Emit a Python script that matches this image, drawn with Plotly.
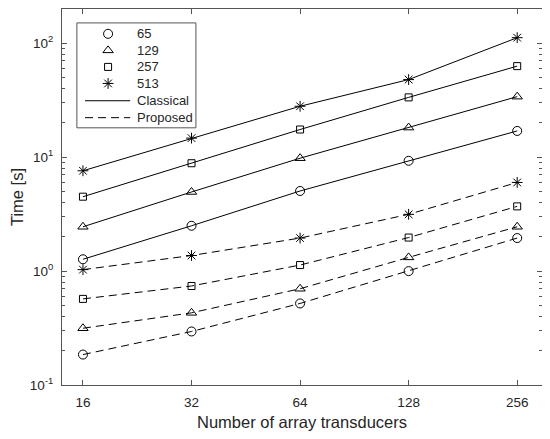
import plotly.graph_objects as go

# number of array transducers
n_trans = [16, 32, 64, 128, 256]

# element counts (legend labels)
sizes = ["65", "129", "257", "513"]

# Classical times [s]
classical = {
    "65": [1.27, 2.5, 5.05, 9.3, 17.0],
    "129": [2.45, 4.95, 9.8, 18.2, 34.0],
    "257": [4.5, 8.85, 17.5, 33.5, 63.0],
    "513": [7.6, 14.7, 28.0, 48.0, 112.0],
}
# Proposed times [s]
proposed = {
    "65": [0.185, 0.295, 0.52, 1.0, 1.95],
    "129": [0.315, 0.43, 0.70, 1.32, 2.45],
    "257": [0.57, 0.74, 1.13, 1.97, 3.7],
    "513": [1.03, 1.37, 1.95, 3.15, 6.0],
}

methods = ["Classical", "Proposed"]

symbols = {"65": "circle-open", "129": "triangle-up-open",
           "257": "square-open", "513": "asterisk-open"}
msize = {"65": 9, "129": 9, "257": 7, "513": 9}
dashes = {"Classical": "solid", "Proposed": "8px,5px"}

fig = go.Figure()

for s in sizes:
    for m, data in (("Classical", classical), ("Proposed", proposed)):
        fig.add_trace(go.Scatter(x=n_trans, y=data[s], mode="lines+markers",
                                 line=dict(color="black", width=1, dash=dashes[m]),
                                 marker=dict(symbol=symbols[s], size=msize[s], color="black",
                                             line=dict(width=1, color="black")),
                                 showlegend=False))

# hand-drawn legend (MATLAB style) on an overlay axis spanning the plot area
leg_x0, leg_x1, leg_top, leg_bot = 0.031, 0.279, 0.963, 0.684
row_y = [0.934, 0.890, 0.846, 0.802, 0.756, 0.711]
mark_x, text_x, line_x0, line_x1 = 0.096, 0.152, 0.048, 0.142

fig.add_shape(type="rect", xref="paper", yref="paper", x0=leg_x0, x1=leg_x1,
              y0=leg_bot, y1=leg_top, line=dict(color="#555555", width=1),
              fillcolor="white", layer="below")
for i, s in enumerate(sizes):
    fig.add_trace(go.Scatter(x=[mark_x], y=[row_y[i]], xaxis="x2", yaxis="y2",
                             mode="markers", showlegend=False, hoverinfo="skip",
                             marker=dict(symbol=symbols[s], size=msize[s], color="black",
                                         line=dict(width=1, color="black"))))
for j, m in enumerate(methods):
    fig.add_trace(go.Scatter(x=[line_x0, line_x1], y=[row_y[4 + j]] * 2,
                             xaxis="x2", yaxis="y2", mode="lines", showlegend=False,
                             hoverinfo="skip",
                             line=dict(color="black", width=1, dash=dashes[m])))
for i, lab in enumerate(sizes + methods):
    fig.add_annotation(x=text_x, y=row_y[i], xref="paper", yref="paper", text=lab,
                       showarrow=False, xanchor="left", yanchor="middle",
                       font=dict(size=13, color="#262626"))

axcol = "#555555"
minor_y = [k * 10 ** e for e in (-1, 0, 1) for k in range(2, 10)] + [200]

fig.update_layout(
    width=542, height=431,
    margin=dict(l=54, r=8, t=1, b=54),
    paper_bgcolor="white", plot_bgcolor="white",
    font=dict(family="Liberation Sans, Arial, sans-serif", size=13, color="#262626"),
    showlegend=False,
    xaxis=dict(type="log", range=[1.146, 2.477], automargin=False,
               tickvals=n_trans, ticktext=[str(v) for v in n_trans],
               tickfont=dict(size=13.5), ticklabelstandoff=5,
               ticks="inside", ticklen=5, tickcolor=axcol, mirror="ticks",
               showline=True, linecolor=axcol, linewidth=1, showgrid=False,
               zeroline=False, title=dict(text="Number of array transducers",
                                          font=dict(size=16.5), standoff=7)),
    yaxis=dict(type="log", range=[-1, 2.301], automargin=False,
               tickvals=[0.1, 1, 10, 100],
               ticktext=["10<sup>-1</sup>", "10<sup>0</sup>", "10<sup>1</sup>", "10<sup>2</sup>"],
               tickfont=dict(size=13.5), ticklabelstandoff=5,
               ticks="inside", ticklen=5, tickcolor=axcol, mirror="ticks",
               showline=True, linecolor=axcol, linewidth=1, showgrid=False,
               zeroline=False,
               minor=dict(tickvals=minor_y, ticks="inside", ticklen=3,
                          tickcolor=axcol, showgrid=False),
               title=dict(text="Time [s]", font=dict(size=16.5), standoff=6)),
    xaxis2=dict(overlaying="x", range=[0, 1], visible=False, anchor="y2"),
    yaxis2=dict(overlaying="y", range=[0, 1], visible=False, anchor="x2"),
)

fig.write_html("out.html")
